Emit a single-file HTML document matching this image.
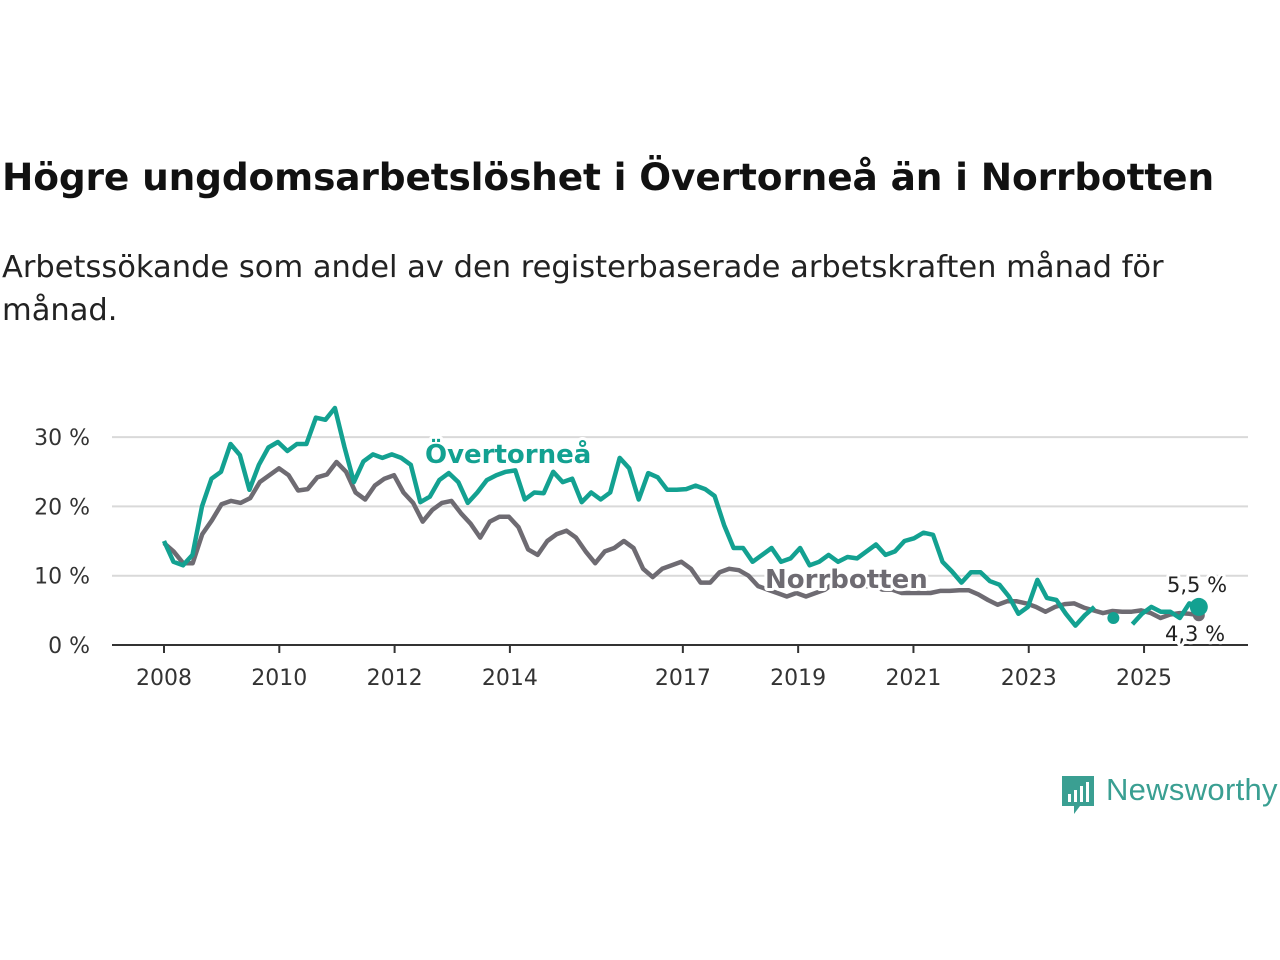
<!DOCTYPE html>
<html><head><meta charset="utf-8"><style>
body{margin:0;background:#fff;width:1280px;height:960px;overflow:hidden;font-family:"Liberation Sans","DejaVu Sans",sans-serif;}
h1{position:absolute;left:2px;top:155px;margin:0;font-size:37.5px;font-weight:bold;color:#111;font-family:"DejaVu Sans","Liberation Sans",sans-serif;letter-spacing:-0.15px}
p{position:absolute;left:2px;top:246px;margin:0;font-size:30.5px;line-height:43px;color:#222;width:1200px;font-family:"DejaVu Sans","Liberation Sans",sans-serif;font-weight:normal}
</style></head><body>
<h1>Högre ungdomsarbetslöshet i Övertorneå än i Norrbotten</h1>
<p>Arbetssökande som andel av den registerbaserade arbetskraften månad för månad.</p>
<svg id="chart" width="1280" height="960" style="position:absolute;left:0;top:0" xmlns="http://www.w3.org/2000/svg"></svg>
<div style="position:absolute;left:1060px;top:774px;width:220px;height:44px">
<svg width="36" height="44" style="position:absolute;left:0;top:0"><path d="M2 2h32v30h-14l-6 8v-8h-12z" fill="#3a9f92"/><rect x="8" y="20" width="3" height="8" fill="#fff"/><rect x="14" y="16" width="3" height="12" fill="#fff"/><rect x="20" y="12" width="3" height="16" fill="#fff"/><rect x="26" y="8" width="3" height="20" fill="#fff"/></svg>
<span style="position:absolute;left:46px;top:-2px;font-size:31px;color:#3a9f92;font-family:'Liberation Sans',sans-serif;letter-spacing:0.3px">Newsworthy</span></div>
<script>
const yTicks=[0,10,20,30];
const yTickLabels=["0 %","10 %","20 %","30 %"];
const xTicks=[2008,2010,2012,2014,2017,2019,2021,2023,2025];
const startYear=2008, endYear=2025.95;
const norrbotten=[14.7,13.5,11.8,11.8,16,18,20.3,20.8,20.5,21.2,23.5,24.5,25.5,24.5,22.3,22.5,24.2,24.6,26.4,25,22,21,23,24,24.5,22,20.5,17.8,19.5,20.5,20.8,19,17.5,15.5,17.8,18.5,18.5,17,13.8,13,15,16,16.5,15.5,13.5,11.8,13.5,14,15,14,11,9.8,11,11.5,12,11,9,9,10.5,11,10.8,10,8.5,8,7.5,7,7.5,7,7.5,8,9,9.5,9,8.5,8.5,8,8,7.5,7.5,7.5,7.5,7.8,7.8,7.9,7.9,7.3,6.5,5.8,6.3,6.3,6,5.5,4.8,5.5,5.9,6,5.4,5,4.6,4.9,4.8,4.8,5,4.6,3.9,4.4,4.6,4.5,4.3];
const overtornea=[15,12,11.5,13,20,24,25,29,27.4,22.4,26,28.5,29.3,28,29,29,32.8,32.5,34.2,28.6,23.5,26.5,27.5,27,27.5,27,26,20.6,21.4,23.8,24.8,23.5,20.5,22,23.8,24.5,25,25.2,21,22,21.9,25,23.5,24,20.6,22,21,22,27,25.5,21,24.8,24.2,22.4,22.4,22.5,23,22.5,21.5,17.3,14,14,12,13,14,12,12.5,14,11.5,12,13,12,12.7,12.5,13.5,14.5,13,13.5,15,15.4,16.2,15.9,12,10.6,9,10.5,10.5,9.2,8.7,7,4.5,5.5,9.4,6.8,6.5,4.5,2.8,4.3,5.5,null,3.9,null,3,4.5,5.5,4.8,4.8,3.9,6,5.5];
const svg=document.getElementById('chart');
const NS='http://www.w3.org/2000/svg';
const X=yr=>164+(yr-2008)*57.65;
const Y=v=>645-v*6.93;
function mk(t,a){const e=document.createElementNS(NS,t);for(const k in a)e.setAttribute(k,a[k]);svg.appendChild(e);return e;}
yTicks.forEach((v,i)=>{
 if(v>0){const g=mk('line',{x1:112,x2:1248,y1:Y(v),y2:Y(v),stroke:'#d9d9d9','stroke-width':2});
 
 }
 const t=mk('text',{x:90,y:Y(v)+8,'text-anchor':'end','font-size':22,fill:'#333','font-family':'DejaVu Sans,sans-serif'});t.textContent=yTickLabels[i];
 
 
});
const ax=mk('line',{x1:112,x2:1248,y1:645,y2:645,stroke:'#333','stroke-width':2});


xTicks.forEach(yr=>{
 const tk=mk('line',{x1:X(yr),x2:X(yr),y1:645,y2:653,stroke:'#333','stroke-width':2});
 
 
 const t=mk('text',{x:X(yr),y:685,'text-anchor':'middle','font-size':22,fill:'#333','font-family':'DejaVu Sans,sans-serif'});t.textContent=yr;
 
 
});
function series(arr,color,name){
 const step=(endYear-startYear)/(arr.length-1);
 let d='',pen=false;
 arr.forEach((v,i)=>{
  if(v===null){pen=false;return;}
  const x=X(startYear+i*step),y=Y(v);
  const prevNull=i===0||arr[i-1]===null, nextNull=i===arr.length-1||arr[i+1]===null;
  if(prevNull&&nextNull){const c=mk('circle',{cx:x,cy:y,r:6,fill:color});
   
   }
  d+=(pen?'L':'M')+x.toFixed(1)+' '+y.toFixed(1);pen=true;
 });
 const p=mk('path',{d:d,fill:'none',stroke:color,'stroke-width':4.5,'stroke-linejoin':'round'});
 
 
 const last=arr[arr.length-1];
 const c=mk('circle',{cx:X(endYear),cy:Y(last),r:name==='overtornea'?9:6,fill:color});
 
 
}
series(norrbotten,'#6e6b72','norrbotten');
series(overtornea,'#13a191','overtornea');
function label(txt,x,y,col,size,bold,name){
 const t=mk('text',{x:x,y:y,'font-size':size,fill:col,'font-weight':bold?'bold':'normal',stroke:'#fff','stroke-width':6,'paint-order':'stroke','stroke-linejoin':'round','font-family':'DejaVu Sans,sans-serif'});
 t.textContent=txt;
 
 
}
label('Övertorneå',425,463,'#13a191',26,true,'overtornea-label');
label('Norrbotten',765,588,'#6e6b72',26,true,'norrbotten-label');
label((overtornea[overtornea.length-1]+'').replace('.',',')+' %',1167,592,'#222',21,false,'overtornea-end-value');
label((norrbotten[norrbotten.length-1]+'').replace('.',',')+' %',1165,641,'#222',21,false,'norrbotten-end-value');
</script>
</body></html>
